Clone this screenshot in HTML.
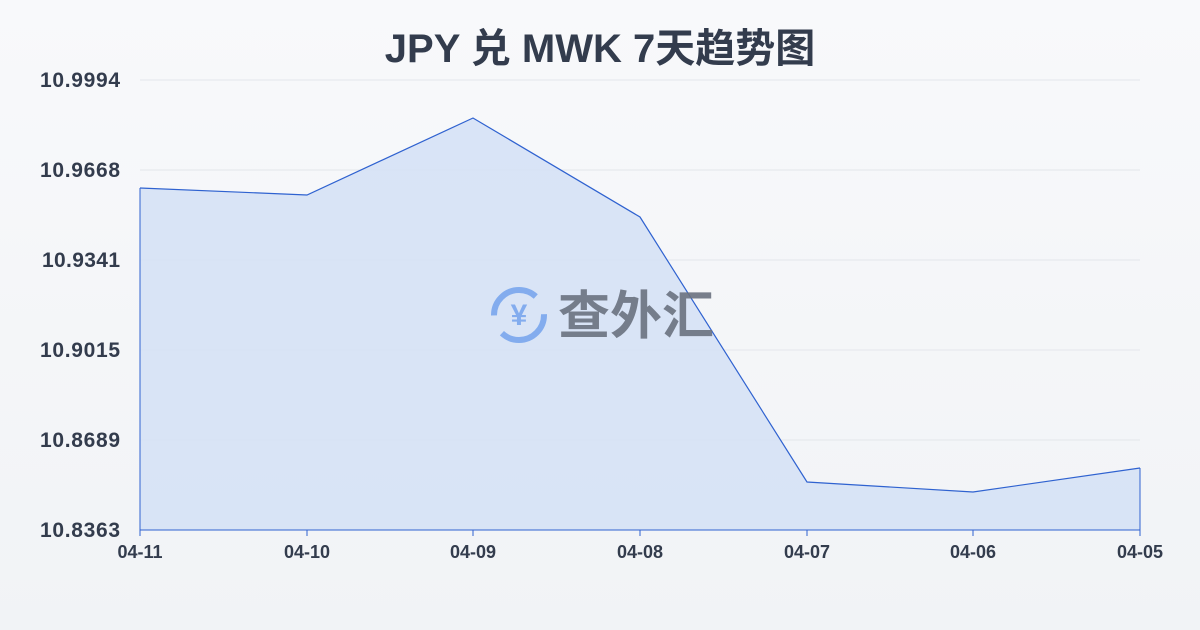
<!DOCTYPE html>
<html><head><meta charset="utf-8"><style>
html,body{margin:0;padding:0}
body{width:1200px;height:630px;background:linear-gradient(#f8f9fb,#f1f3f6);font-family:"Liberation Sans","Noto Sans CJK SC",sans-serif;overflow:hidden}
</style></head><body>
<svg width="1200" height="630" xmlns="http://www.w3.org/2000/svg" style="position:absolute;left:0;top:0">
<text x="600" y="62" text-anchor="middle" font-size="40" font-weight="bold" fill="#333c4d" font-family="Liberation Sans,Noto Sans CJK SC,sans-serif">JPY 兑 MWK 7天趋势图</text>
<g stroke="#e3e6eb" stroke-width="1">
<line x1="140" y1="80" x2="1140" y2="80"/><line x1="140" y1="170" x2="1140" y2="170"/>
<line x1="140" y1="260" x2="1140" y2="260"/><line x1="140" y1="350" x2="1140" y2="350"/>
<line x1="140" y1="440" x2="1140" y2="440"/>
</g>
<g font-size="21" font-weight="bold" fill="#333c4d">
<text x="40" y="87" textLength="80">10.9994</text><text x="40" y="177" textLength="80">10.9668</text>
<text x="42" y="267" textLength="78">10.9341</text><text x="40" y="357" textLength="80">10.9015</text>
<text x="40" y="447" textLength="80">10.8689</text><text x="40" y="537" textLength="80">10.8363</text>
</g>
<polygon points="140,188 307,195 473,118 640,217 807,482 973,492 1140,468 1140,530 140,530" fill="#d4e0f6" fill-opacity="0.85"/>
<polyline points="140,188 307,195 473,118 640,217 807,482 973,492 1140,468" fill="none" stroke="#2f62d0" stroke-width="1.2"/>
<line x1="140" y1="188" x2="140" y2="530" stroke="#2f62d0" stroke-width="1"/>
<line x1="1140" y1="468" x2="1140" y2="530" stroke="#2f62d0" stroke-width="1"/>
<line x1="140" y1="530" x2="1140" y2="530" stroke="#2f62d0" stroke-width="1"/>
<g stroke="#2f62d0"><line x1="140" y1="530" x2="140" y2="536"/><line x1="307" y1="530" x2="307" y2="536"/><line x1="473" y1="530" x2="473" y2="536"/><line x1="640" y1="530" x2="640" y2="536"/><line x1="807" y1="530" x2="807" y2="536"/><line x1="973" y1="530" x2="973" y2="536"/><line x1="1140" y1="530" x2="1140" y2="536"/></g>
<g font-size="18" font-weight="bold" fill="#333c4d" text-anchor="middle">
<text x="140" y="558">04-11</text><text x="307" y="558">04-10</text><text x="473" y="558">04-09</text>
<text x="640" y="558">04-08</text><text x="807" y="558">04-07</text><text x="973" y="558">04-06</text><text x="1140" y="558">04-05</text>
</g>
<g opacity="0.9">
<circle cx="519" cy="315" r="25" fill="none" stroke="#7aa7ee" stroke-width="6" stroke-dasharray="58 20"/>
<text x="519" y="325" text-anchor="middle" font-size="30" font-weight="bold" fill="#7aa7ee">¥</text>
<text x="558" y="334" font-size="52" font-weight="bold" fill="#6b7280" font-family="Noto Sans CJK SC,sans-serif">查外汇</text>
</g>
</svg>
</body></html>
